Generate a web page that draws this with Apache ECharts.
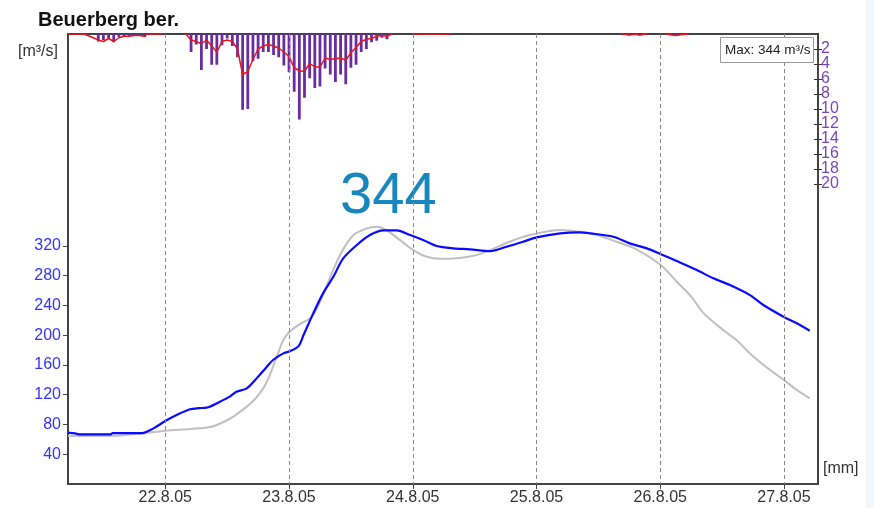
<!DOCTYPE html>
<html><head><meta charset="utf-8">
<script src="https://cdn.jsdelivr.net/npm/echarts@6/dist/echarts.min.js"></script>
<style>html,body{margin:0;padding:0;background:#fff}#c{width:874px;height:508px}</style>
</head><body><div id="c"></div>
<script>
// ---- data (hours counted from 22.8.05 00:00) ----
const titleText = 'Beuerberg ber.';
const dayHours = [0, 24, 48, 72, 96, 120];
const dayLabels = ['22.8.05', '23.8.05', '24.8.05', '25.8.05', '26.8.05', '27.8.05'];
const flowTicks = [40, 80, 120, 160, 200, 240, 280, 320];
const rainTicks = [2, 4, 6, 8, 10, 12, 14, 16, 18, 20];
const maxFlow = 344;

const blueHours = [-18.87,-17.5,-16.5,-10.6,-10.2,-4.5,-2.3,0,2.2,4.8,6.5,8,10.6,12.5,13.8,15.8,17.7,19.7,20.9,22.9,24,25.8,26.8,28.7,30.6,32.6,34.5,37.1,39.7,42.3,44.9,47.5,50,52.6,55.9,59.1,63,66.2,69.4,72,76.6,80.4,82.4,86.9,90.1,93.4,96.1,99.2,103.1,106.3,109.5,113.4,116,119.9,122.5,125];
const blueValues = [69,68,66.7,66.7,68.5,68.5,74.8,84.7,92.7,100.4,102,102.6,110.6,117.4,124,128.6,142,157.7,166.7,175.6,178,185,200,229.4,256.3,278.6,303.3,321,334.7,341,341,334.7,328,320,316.8,315.5,313,319,325.7,331.5,337,338.3,337,332.4,323.5,316.8,309,299.7,287.6,276.5,267.5,254,240.6,224.9,216,206];

const grayHours = [-18.87,-10.7,-4.3,0,5,9,11.5,13.5,15.8,17.5,19,20,20.9,22,22.9,24.1,26.1,28.1,29.4,31.5,33.9,36.5,39.1,41,42.9,45.5,48.1,50.7,53.3,55.9,59.1,61,63,66.8,70.7,76.6,80.4,83.7,87.5,91.4,96.1,99.2,102,104.5,108.2,110.8,113.4,117.3,120,122.5,125];
const grayValues = [64.5,64.5,68,71.6,74,77,84,92,104,115,128.6,142,157.7,178,193.5,204.8,215,222.7,236,270,308,334.7,343.6,345.8,341.4,328,314.5,305.5,302.8,303.3,306,309,314.5,325.7,334.7,341.4,339,334.7,325.7,315.5,294.4,272,252,229,207,193.5,175.6,153.2,139.8,126.3,115.2];

const rainHours = [-13,-12,-11,-10,-9,-8,-7,-6,-5,-4,5,6,7,8,9,10,11,12,13,14,15,16,17,18,19,20,21,22,23,24,25,26,27,28,29,30,31,32,33,34,35,36,37,38,39,40,41,42,43,44,60,90,92,99];
const rainValues = [1.0,0.8,0.6,1.1,0.4,0.3,0.3,0.2,0.2,0.4,2.4,1.4,4.8,2.0,4.1,4.1,1.5,0.6,1.6,3.1,10.1,10.0,3.6,3.3,2.4,2.4,2.8,3.1,4.2,5.1,7.7,11.4,8.5,5.9,7.2,7.0,4.6,5.4,6.4,5.4,6.7,4.5,4.1,2.4,2.0,1.1,0.9,0.5,0.7,0.1,0.1,0.2,0.2,0.2];

const redHours = [-18.87,-16,-15,-14,-13,-12,-11,-10,-9,-8,-7,-6,-5,-4,-3.5,-0.5,2,4,5,6,7,8,9,10,11,12,13,14,15,16,17,18,19,20,21,22,23,24,25,26,27,28,29,30,31,32,33,34,35,36,37,38,39,40,41,42,43,44,46,48,55.5,70,88.5,90,91,92,93.4,95,97,98,99,100,101.5];
const redValues = [0,0,0.2,0.5,0.8,1.0,0.6,1.0,0.5,0.3,0.3,0.2,0.2,0.3,0,0,null,0,0.8,1.0,1.3,0.8,1.6,2.4,1.0,0.8,1.0,2.0,5.4,5.0,3.4,2.0,1.6,1.4,1.6,1.9,2.4,3.0,4.5,4.9,5.0,3.9,4.4,4.4,3.2,3.4,3.3,3.2,3.5,2.5,1.8,1.0,0.7,0.6,0.3,0.2,0.3,0,null,0,0,null,0,0.15,0.05,0.15,0,null,0,0.1,0.2,0.1,0];

// ---- chart ----
const FONT = 'Liberation Sans, Arial, sans-serif';
const pairs = (xs, ys) => xs.map((x, i) => [x, ys[i] === null ? '-' : ys[i]]);
const rainOdd = rainTicks.filter((v, i) => i % 2 === 0);
const rainEven = rainTicks.filter((v, i) => i % 2 === 1);
const rainLabel = vals => ({customValues: vals, color: '#7a45b8', fontSize: 16, fontFamily: FONT, margin: 3, showMinLabel: true, showMaxLabel: true, hideOverlap: false});
const chart = echarts.init(document.getElementById('c'), null, {renderer: 'canvas'});

chart.setOption({
  animation: false,
  backgroundColor: '#ffffff',
  grid: {left: 68, right: 56, top: 34, bottom: 24, show: true, borderColor: '#444', borderWidth: 2, backgroundColor: 'transparent'},
  xAxis: {
    type: 'value', min: -18.87, max: 126.6,
    axisLine: {show: true, onZero: false, lineStyle: {color: '#444', width: 2}},
    axisTick: {show: true, customValues: dayHours, length: 5, lineStyle: {color: '#444', width: 1}},
    axisLabel: {customValues: dayHours, formatter: v => dayLabels[dayHours.indexOf(v)] || '', color: '#333', fontSize: 16, fontFamily: FONT, margin: 6, showMinLabel: true, showMaxLabel: true},
    splitLine: {show: false}
  },
  yAxis: [
    {
      type: 'value', position: 'left', min: 0, max: 605,
      axisLine: {show: true, onZero: false, lineStyle: {color: '#444', width: 2}},
      axisTick: {show: true, customValues: flowTicks, length: 5, lineStyle: {color: '#444'}},
      axisLabel: {customValues: flowTicks, color: '#3333ff', fontSize: 16, fontFamily: FONT, margin: 7, showMinLabel: true, showMaxLabel: true},
      splitLine: {show: false}
    },
    {
      type: 'value', position: 'right', inverse: true, min: 0, max: 60,
      axisLine: {show: true, onZero: false, lineStyle: {color: '#444', width: 2}},
      axisTick: {show: true, customValues: rainTicks, length: 4, lineStyle: {color: '#333'}},
      axisLabel: rainLabel(rainOdd),
      splitLine: {show: false}
    },
    {
      type: 'value', position: 'right', inverse: true, min: 0, max: 60,
      axisLine: {show: false, onZero: false},
      axisTick: {show: true, inside: true, customValues: rainTicks, length: 4, lineStyle: {color: '#333'}},
      axisLabel: rainLabel(rainEven),
      splitLine: {show: false}
    }
  ],
  series: [
    {
      type: 'bar', yAxisIndex: 1, barWidth: 2.8, itemStyle: {color: '#6a2c9f'},
      data: pairs(rainHours, rainValues),
      markLine: {
        silent: true, symbol: ['none', 'none'], label: {show: false},
        lineStyle: {type: [4, 3], color: '#8a8a8a', width: 1},
        data: dayHours.map(h => ({xAxis: h}))
      }
    },
    {
      type: 'line', yAxisIndex: 1, showSymbol: false, connectNulls: false,
      lineStyle: {color: '#e8141e', width: 1.5}, data: pairs(redHours, redValues)
    },
    {
      type: 'line', yAxisIndex: 0, showSymbol: false, smooth: 0.3,
      lineStyle: {color: '#c0c0c0', width: 2}, data: pairs(grayHours, grayValues)
    },
    {
      type: 'line', yAxisIndex: 0, showSymbol: false, smooth: 0.3,
      lineStyle: {color: '#0a0aff', width: 2.2}, data: pairs(blueHours, blueValues)
    }
  ],
  graphic: [
    {type: 'rect', shape: {x: 866, y: 0, width: 8, height: 508}, style: {fill: '#f2f7fb'}, z: -10},
    {type: 'text', x: 38, y: 20, style: {text: titleText, fill: '#111', font: 'bold 20px ' + FONT, textAlign: 'left', textVerticalAlign: 'middle', align: 'left', verticalAlign: 'middle'}},
    {type: 'text', x: 18, y: 52, style: {text: '[m³/s]', fill: '#333', font: '16px ' + FONT, textAlign: 'left', textVerticalAlign: 'middle', align: 'left', verticalAlign: 'middle'}},
    {type: 'text', x: 823, y: 469, style: {text: '[mm]', fill: '#333', font: '16px ' + FONT, textAlign: 'left', textVerticalAlign: 'middle', align: 'left', verticalAlign: 'middle'}},
    {type: 'text', x: 340, y: 197, style: {text: String(maxFlow), fill: '#1787bd', font: '58px ' + FONT, textAlign: 'left', textVerticalAlign: 'middle', align: 'left', verticalAlign: 'middle'}},
    {type: 'rect', shape: {x: 720.5, y: 37.5, width: 93, height: 25}, style: {fill: '#fff', stroke: '#999', lineWidth: 1}, z: 100},
    {type: 'text', x: 725, y: 50, z: 101, style: {text: 'Max: ' + maxFlow + ' m³/s', fill: '#222', font: '13.5px ' + FONT, textAlign: 'left', textVerticalAlign: 'middle', align: 'left', verticalAlign: 'middle'}}
  ]
});
</script></body></html>
